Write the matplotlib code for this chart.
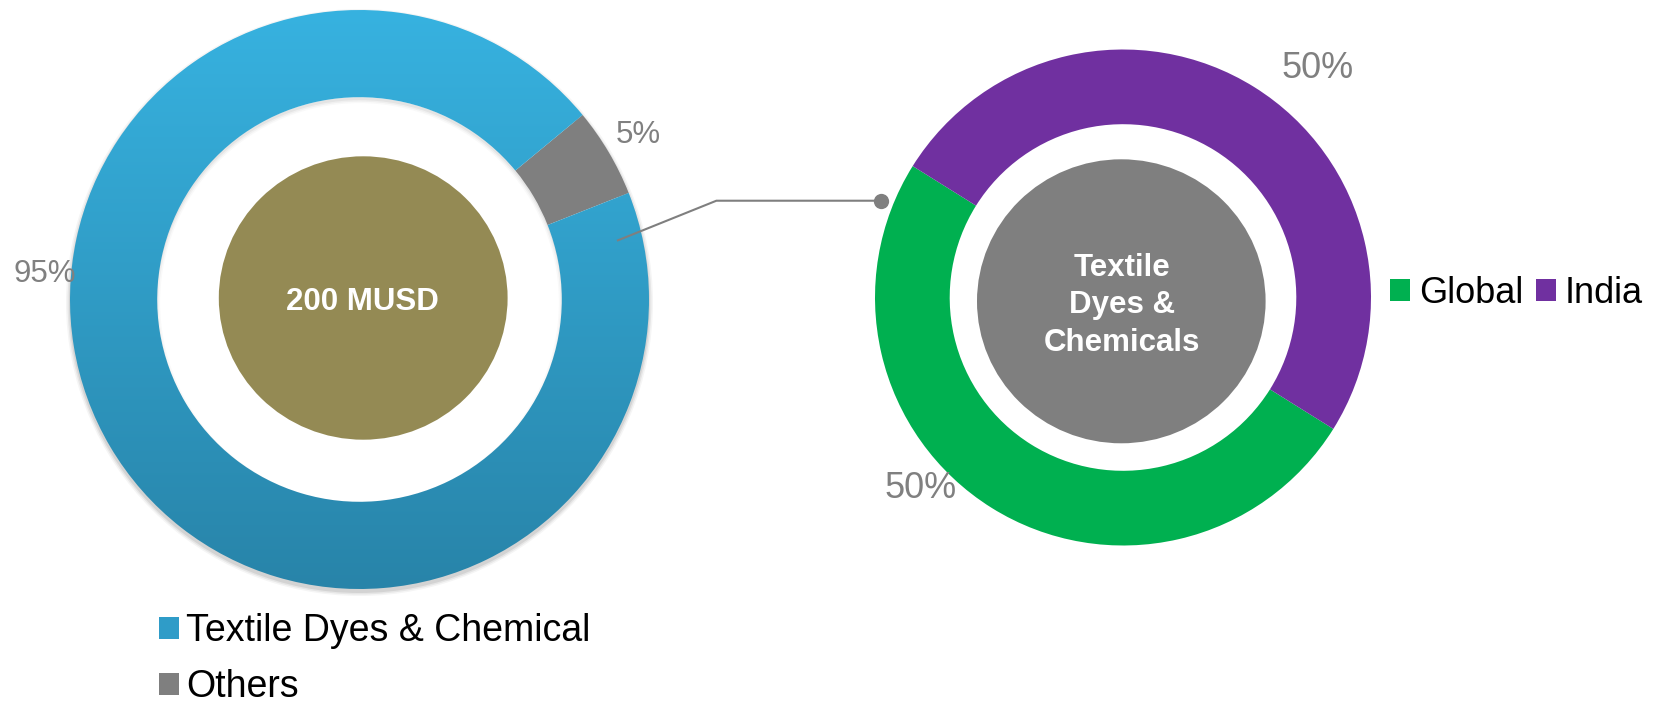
import numpy as np
import matplotlib
matplotlib.use("Agg")
import matplotlib.pyplot as plt
from matplotlib.patches import Ellipse, Patch, Wedge
from matplotlib.colors import LinearSegmentedColormap

# ---------------- data ----------------
left_labels = ["Textile Dyes & Chemical", "Others"]
left_values = [95, 5]
left_pct = ["95%", "5%"]
left_center_text = "200 MUSD"

right_labels = ["Global", "India"]
right_values = [50, 50]
right_pct = ["50%", "50%"]
right_center_text = "Textile\nDyes &\nChemicals"

# ---------------- style ----------------
W, H = 1663, 704
BLUE_TOP = "#37B2E0"
BLUE_BOT = "#2884A9"
BLUE_MID = "#2F9CC8"
GREY = "#7F7F7F"
OLIVE = "#948A54"
GREEN = "#00B050"
PURPLE = "#7030A0"
LABEL = "#808080"
FONT = ["Liberation Sans", "DejaVu Sans"]
plt.rcParams["font.family"] = FONT


def py(y):
    return H - y


fig = plt.figure(figsize=(W / 100, H / 100), dpi=100)
ax = fig.add_axes([0, 0, 1, 1])

# ---------------- left donut ----------------
lc = (359.5, py(299.5))
lr = 289.5
lw = 87.2

# soft drop shadow (outer edge and inside top of hole)
for k, a in [(4, 0.04), (2.5, 0.06), (1, 0.08)]:
    ax.add_patch(Wedge((lc[0], lc[1] - 3), lr + k, 0, 360, width=10 + k,
                       facecolor="black", alpha=a, linewidth=0, zorder=1))
    ax.add_patch(Wedge((lc[0], lc[1] - 3), lr - lw + 3, 0, 360, width=2 + k,
                       facecolor="black", alpha=a * 0.6, linewidth=0, zorder=1))

lwedges, _ = ax.pie(left_values, radius=lr, center=lc, startangle=21.6,
                    counterclock=False, colors=[BLUE_MID, GREY],
                    wedgeprops=dict(width=lw, linewidth=0, zorder=2))
lwedges[0].set_facecolor("none")
cmap = LinearSegmentedColormap.from_list("blue", [BLUE_BOT, BLUE_TOP])
grad = np.linspace(0, 1, 256).reshape(-1, 1)
im = ax.imshow(grad, extent=[lc[0] - lr, lc[0] + lr, lc[1] - lr, lc[1] + lr],
               origin="lower", cmap=cmap, aspect="auto", zorder=2)
im.set_clip_path(lwedges[0])

ax.add_patch(Ellipse((363.2, py(298)), 2 * 144.4, 2 * 141.7,
                     facecolor=OLIVE, linewidth=0, zorder=3))
ax.text(362.7, py(310), left_center_text, color="white", fontsize=22.5,
        fontweight="bold", ha="center", va="baseline", zorder=4)

ax.text(45, py(281.7), left_pct[0], color=LABEL, fontsize=22.5,
        ha="center", va="baseline", zorder=5)
ax.text(638, py(143.3), left_pct[1], color=LABEL, fontsize=22.5,
        ha="center", va="baseline", zorder=5)

# ---------------- right donut ----------------
rc = (1123, py(297.5))
rr = 248
rw = 74.7

ax.pie(right_values, radius=rr, center=rc, startangle=-32,
       counterclock=False, colors=[GREEN, PURPLE],
       wedgeprops=dict(width=rw, linewidth=0, zorder=2))
ax.add_patch(Ellipse((1121.3, py(301.3)), 2 * 144.3, 2 * 142,
                     facecolor=GREY, linewidth=0, zorder=3))
ax.text(1122, py(305.5), right_center_text, color="white", fontsize=22.5,
        fontweight="bold", ha="center", va="center", linespacing=1.34, zorder=4)

ax.text(1317.5, py(77.8), right_pct[1], color=LABEL, fontsize=26,
        ha="center", va="baseline", zorder=5)
ax.text(921, py(497.5), right_pct[0], color=LABEL, fontsize=26,
        ha="center", va="baseline", zorder=5)

# ---------------- connector ----------------
a0 = np.deg2rad(12.86)
p0 = (lc[0] + 264.1 * np.cos(a0), lc[1] + 264.1 * np.sin(a0))
a1 = np.deg2rad(158.2)
p2 = (rc[0] + 260.6 * np.cos(a1), rc[1] + 260.6 * np.sin(a1))
p1 = (p0[0] + 99.4, p2[1])
ax.plot([p0[0], p1[0], p2[0]], [p0[1], p1[1], p2[1]], color=GREY, lw=1.5,
        solid_capstyle="butt", solid_joinstyle="miter", zorder=6)
ax.plot([p2[0]], [p2[1]], "o", color=GREY, ms=11, mew=0, zorder=6)

ax.set_xlim(0, W)
ax.set_ylim(0, H)
ax.set_aspect("auto")
ax.axis("off")

# ---------------- legends ----------------
lh = [Patch(facecolor=BLUE_MID, linewidth=0), Patch(facecolor=GREY, linewidth=0)]
leg1 = ax.legend(lh, left_labels, loc="upper left", bbox_to_anchor=(159, py(613)),
                 bbox_transform=ax.transData, frameon=False, fontsize=27,
                 handlelength=0.53, handleheight=0.53, handletextpad=0.2,
                 labelspacing=0.53, borderpad=0, borderaxespad=0)
ax.add_artist(leg1)

rh = [Patch(facecolor=GREEN, linewidth=0), Patch(facecolor=PURPLE, linewidth=0)]
ax.legend(rh, right_labels, loc="center left", bbox_to_anchor=(1390, py(293.5)),
          bbox_transform=ax.transData, frameon=False, fontsize=26, ncol=2,
          handlelength=0.55, handleheight=0.55, handletextpad=0.25,
          columnspacing=0.35, borderpad=0, borderaxespad=0)

fig.savefig("out.png", dpi=100)
